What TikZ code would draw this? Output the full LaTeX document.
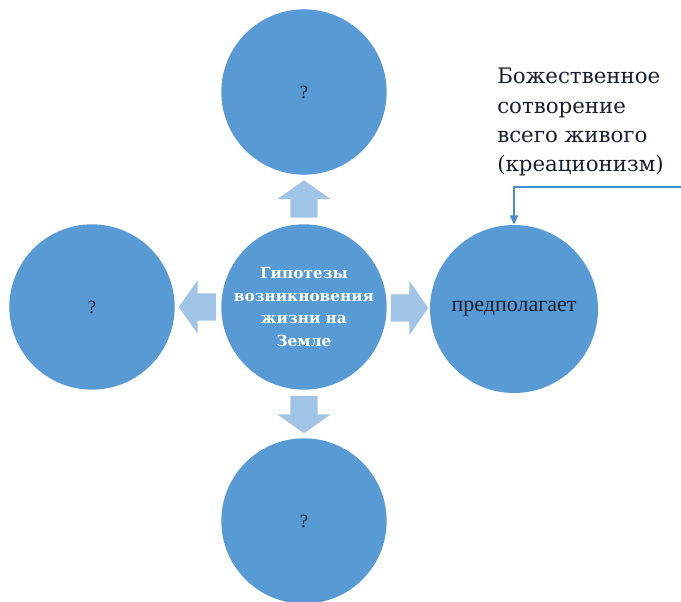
\documentclass[tikz,border=0pt]{standalone}
\usepackage{fontspec}
\setmainfont{DejaVu Serif}
\newfontfamily\timesf{Liberation Serif}
\usetikzlibrary{shapes.arrows,calc,arrows.meta}
\definecolor{circfill}{RGB}{88,155,212}
\definecolor{arrfill}{RGB}{160,196,230}
\definecolor{linecol}{RGB}{72,140,205}
\definecolor{darktext}{RGB}{25,30,45}
\tikzset{
  bubble/.style={circle,fill=circfill,minimum size=124pt,inner sep=0pt,align=center},
  qmark/.style={bubble,font=\timesf\fontsize{14}{16}\selectfont,text=darktext},
  blockarrow/.style={single arrow,fill=arrfill,draw=none,minimum height=28pt,
    inner xsep=0pt,inner ysep=10pt,single arrow head extend=10pt,
    single arrow tip angle=110},
}
\begin{document}
\begin{tikzpicture}[x=0.75pt,y=-0.75pt]
\useasboundingbox (0,0) rectangle (681,602);
\node[bubble,font=\bfseries\fontsize{11.5}{17}\selectfont,text=white] (c) at (304,307) {Гипотезы\\возникновения\\жизни на\\Земле};
\node[qmark] (t) at (304,92) {?};
\node[qmark] (l) at (92,307) {?};
\node[qmark] (b) at (304,521) {?};
\node[bubble,minimum size=126pt,font=\timesf\fontsize{16.5}{19}\selectfont,text=darktext] (r) at (514,309) {предполагает};
\node[blockarrow,rotate=90] (at) at ($(c)!0.48!(t)$) {};
\node[blockarrow,rotate=180] (al) at ($(c)!0.48!(l)$) {};
\node[blockarrow] (ar) at ($(c)!0.48!(r)$) {};
\node[blockarrow,rotate=-90] (ab) at ($(c)!0.48!(b)$) {};
\node[anchor=north west,align=left,inner sep=0pt,text=darktext,
  font=\fontsize{16}{22}\selectfont] (txt) at (497,68)
  {Божественное\\сотворение\\всего живого\\(креационизм)};
\coordinate (edge) at (681,187);
\draw[linecol,line width=1.3pt,-{Triangle[length=7pt,width=6pt]}] (edge) -| (r.north);
\end{tikzpicture}
\end{document}
